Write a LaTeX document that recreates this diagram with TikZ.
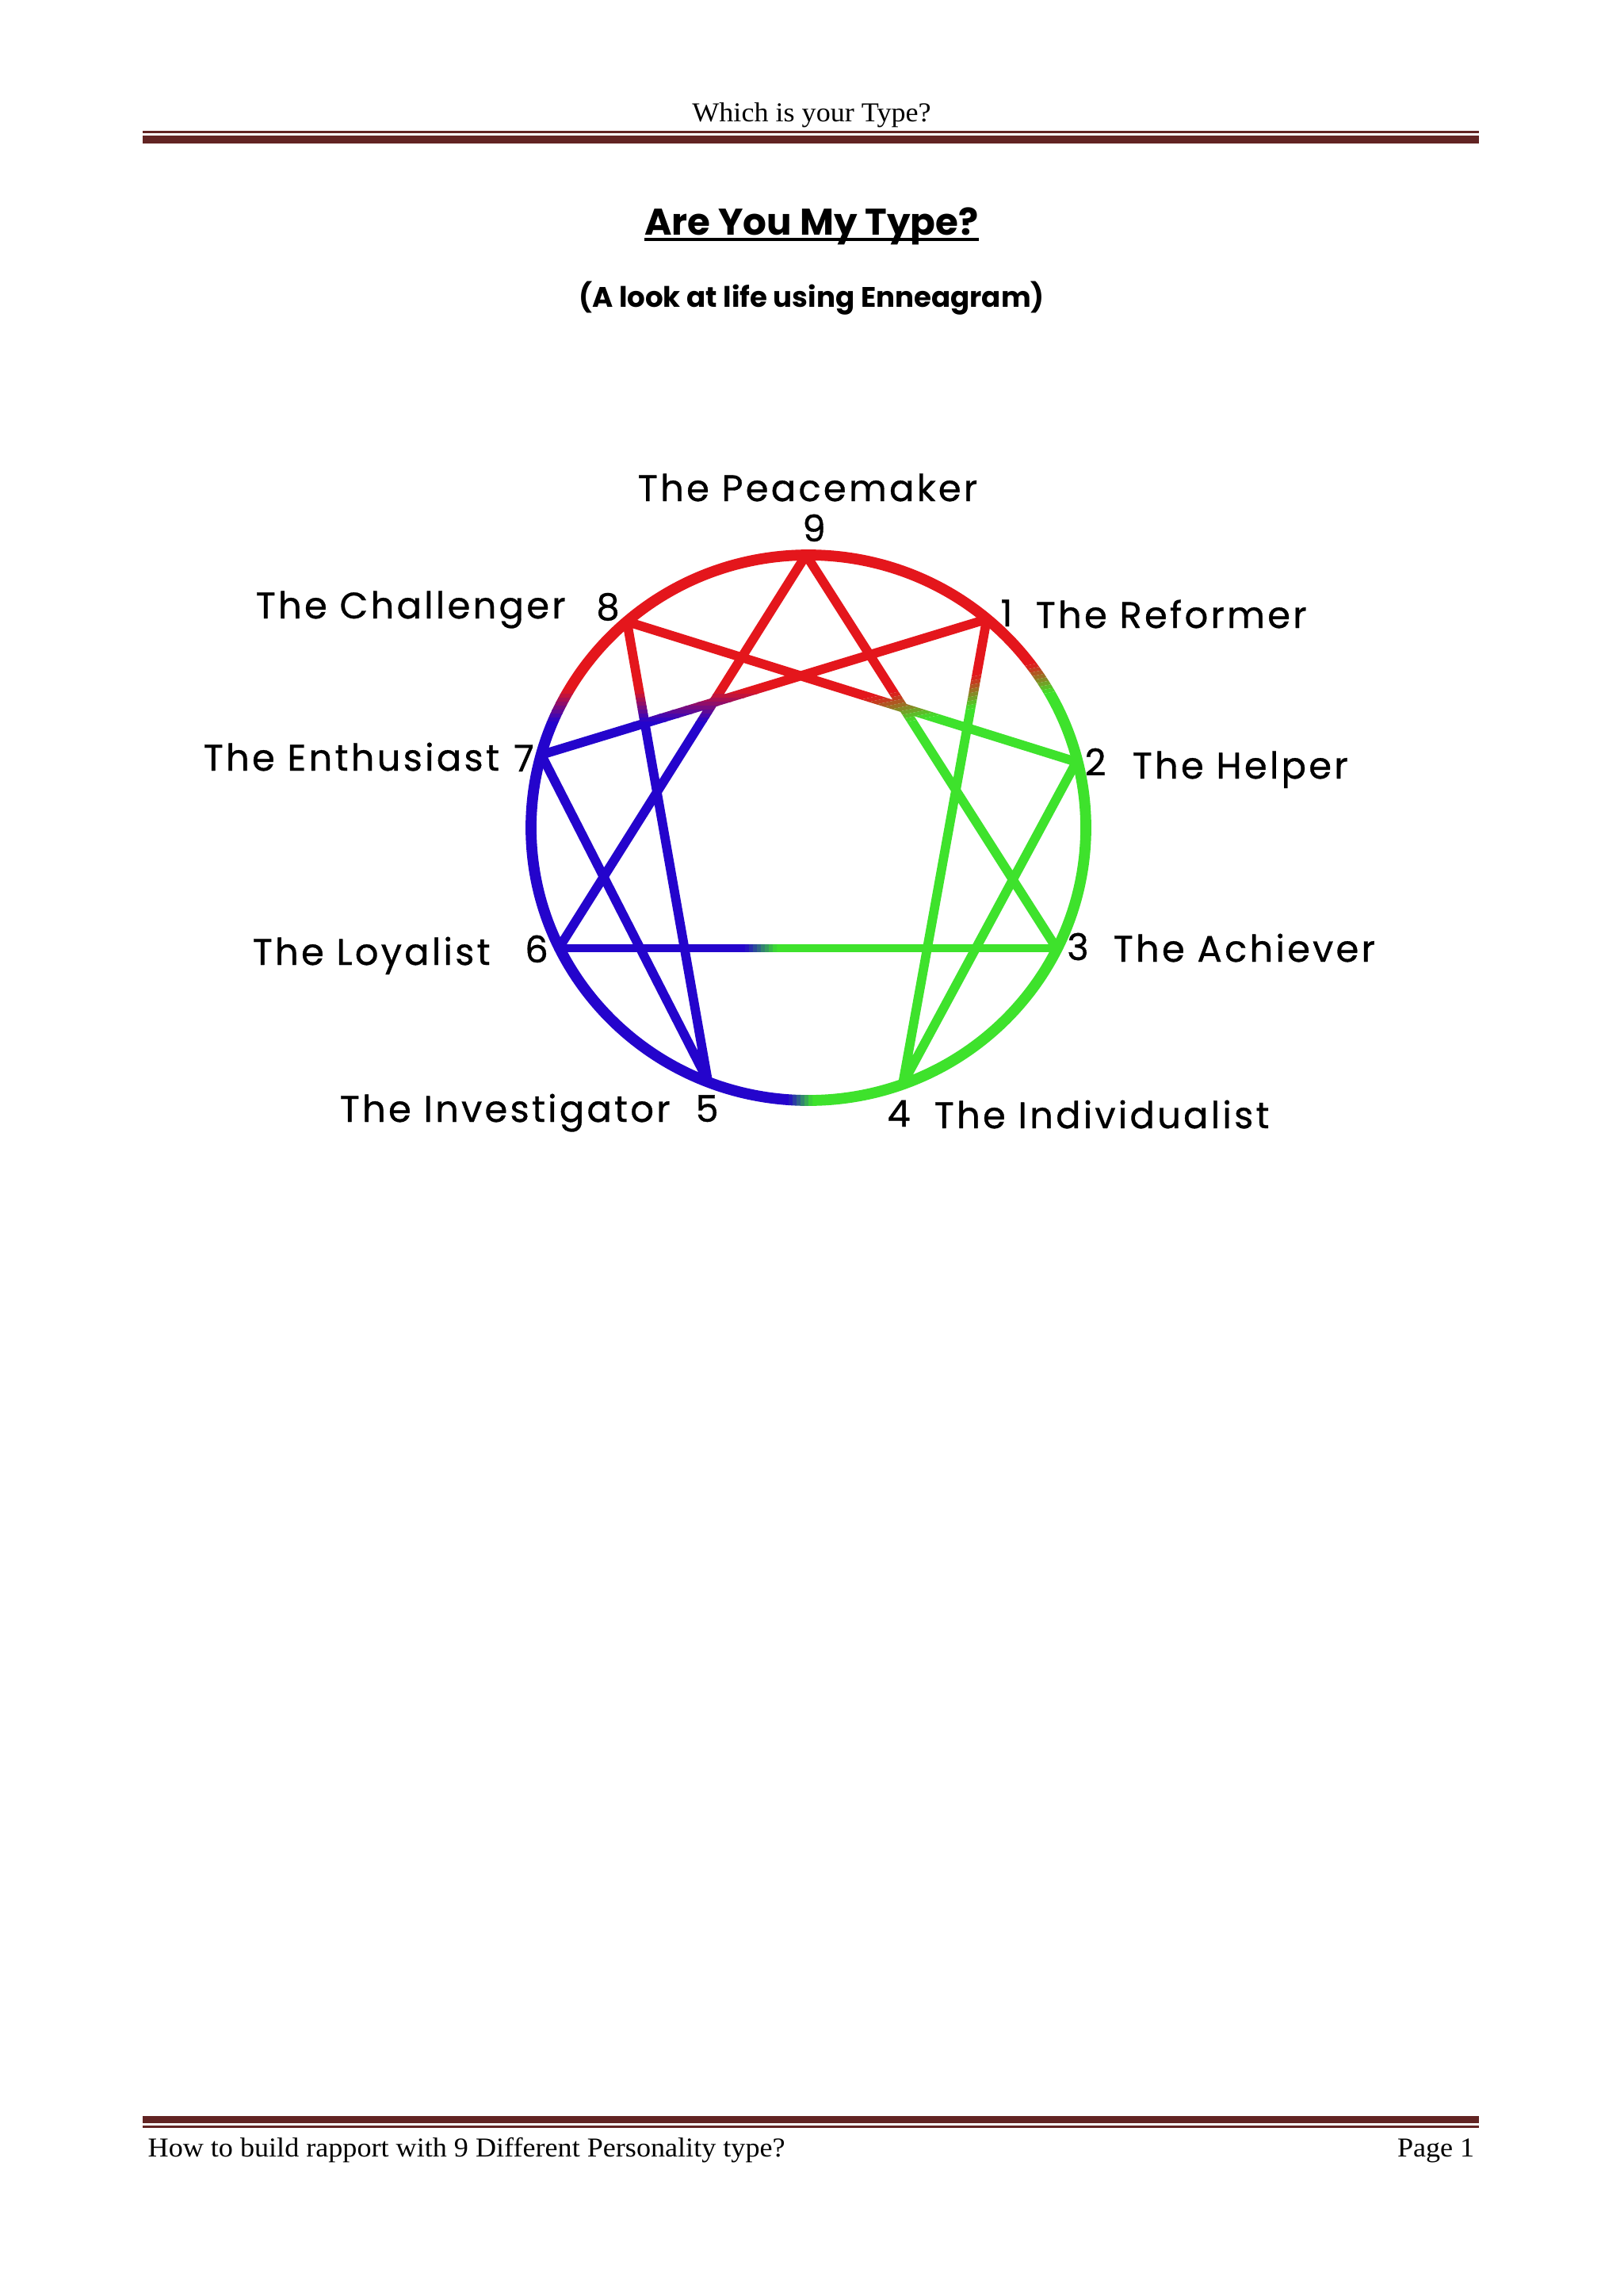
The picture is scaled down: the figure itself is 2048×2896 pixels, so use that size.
\documentclass[tikz,border=0pt]{standalone}
\usepackage{fontspec}
\setmainfont{Liberation Serif}[FakeStretch=1.05]
\newfontfamily\gothic{Poppins}
\newfontfamily\gothiclbl{Poppins}[LetterSpace=7,FakeBold=0.7]
\usetikzlibrary{calc}
\definecolor{maroon}{RGB}{98,36,35}
\definecolor{ered}{RGB}{228,22,28}
\definecolor{egreen}{RGB}{62,226,44}
\definecolor{eblue}{RGB}{36,4,204}
\newcommand\enneadraw[1]{%
  \draw[draw=#1,line width=4pt] (ctr) ellipse [x radius=350,y radius=344];
  \draw[draw=#1,line width=3.4pt,line cap=round,line join=round]
    (n9)--(n3) (n6)--(n9)
    (n1)--(n4)--(n2)--(n8)--(n5)--(n7)--cycle;
  \draw[draw=#1,line width=2.9pt,line cap=round] (n6)--(n3);
}
\begin{document}
\begin{tikzpicture}[x=0.29066pt,y=-0.29066pt,
  hdr/.style={font=\fontsize{10}{12}\selectfont,inner sep=0pt},
  lbl/.style={font=\gothiclbl\fontsize{13.5}{16}\selectfont,inner sep=0pt},
  num/.style={font=\gothiclbl\fontsize{13.5}{16}\selectfont,inner sep=0pt,anchor=base}]
\useasboundingbox (0,0) rectangle (2048,2896);
\fill[white] (0,0) rectangle (2048,2896);
% header
\node[hdr,anchor=base] (hdr) at (1024,153) {Which is your Type?};
\fill[maroon] (180,165.3) rectangle (1866,167.9);
\fill[maroon] (180,170.7) rectangle (1866,180.7);
% title
\node[font=\gothic\bfseries\fontsize{13.6}{17}\selectfont,inner sep=0pt,anchor=base] (title) at (1024,296) {Are You My Type?};
\draw[line width=1.2pt] ($(title.base west)+(0,6)$) -- ($(title.base east)+(0,6)$);
\node[font=\gothic\bfseries\fontsize{10.35}{12}\selectfont,inner sep=0pt,anchor=base] (sub) at (1024,387) {(A look at life using Enneagram)};
% enneagram points
\coordinate (ctr) at (1020,1044);
\coordinate (n9) at (1017,700);
\coordinate (n1) at (1245,781);
\coordinate (n2) at (1358,961);
\coordinate (n3) at (1333,1196);
\coordinate (n4) at (1139,1367);
\coordinate (n5) at (893,1363);
\coordinate (n6) at (705,1196);
\coordinate (n7) at (683,952);
\coordinate (n8) at (791,784);
% red region
\begin{scope}
  \clip (0,0) rectangle (1000,870) (1000,0) -- (2048,0) -- (2048,685) -- (1000,900) -- cycle;
  \enneadraw{ered}
\end{scope}
\foreach \k in {0,...,7}{%
  \pgfmathtruncatemacro\p{100-(\k+0.5)*100/8}
  \begin{scope}
    \clip (0,{870+5*\k}) rectangle (1000,{875+5*\k});
    \enneadraw{ered!\p!eblue}
  \end{scope}}
\foreach \k in {0,...,7}{%
  \pgfmathtruncatemacro\p{100-(\k+0.5)*100/8}
  \begin{scope}
    \clip (1000,{900+5*\k}) -- (2048,{685+5*\k}) -- (2048,{690+5*\k}) -- (1000,{905+5*\k}) -- cycle;
    \enneadraw{ered!\p!egreen}
  \end{scope}}
% blue region
\begin{scope}
  \clip (0,910) rectangle (940,1290) (0,1290) rectangle (995,2896);
  \enneadraw{eblue}
\end{scope}
% green region
\begin{scope}
  \clip (1000,940) -- (2048,725) -- (2048,1290) -- (1000,1290) -- cycle
        (980,910) rectangle (1000,1290)
        (1025,1290) rectangle (2048,2896);
  \enneadraw{egreen}
\end{scope}
\foreach \k in {0,...,7}{%
  \pgfmathtruncatemacro\p{100-(\k+0.5)*100/8}
  \begin{scope}
    \clip ({940+5*\k},910) rectangle ({945+5*\k},1290);
    \enneadraw{eblue!\p!egreen}
  \end{scope}}
\foreach \k in {0,...,5}{%
  \pgfmathtruncatemacro\p{100-(\k+0.5)*100/6}
  \begin{scope}
    \clip ({995+5*\k},1290) rectangle ({1000+5*\k},2896);
    \enneadraw{eblue!\p!egreen}
  \end{scope}}
% labels
\node[lbl,anchor=base] (l9) at (1019,632) {The Peacemaker};
\node[num] (d9) at (1027,683) {9};
\node[num] (d8) at (767,782) {8};
\node[lbl,anchor=base west] (l8) at (322,780) {The Challenger};
\node[num] (d1) at (1270,790) {1};
\node[lbl,anchor=base west] (l1) at (1306,792) {The Reformer};
\node[num] (d2) at (1382,978) {2};
\node[lbl,anchor=base west] (l2) at (1428,982) {The Helper};
\node[num] (d3) at (1360,1211) {3};
\node[lbl,anchor=base west] (l3) at (1404,1213) {The Achiever};
\node[num] (d4) at (1134,1421) {4};
\node[lbl,anchor=base west] (l4) at (1178,1423) {The Individualist};
\node[num] (d5) at (892,1415) {5};
\node[lbl,anchor=base west] (l5) at (428,1415) {The Investigator};
\node[num] (d6) at (677,1214) {6};
\node[lbl,anchor=base west] (l6) at (318,1217) {The Loyalist};
\node[num] (d7) at (661,973) {7};
\node[lbl,anchor=base west] (l7) at (256,972) {The Enthusiast};
% footer
\fill[maroon] (180,2669.3) rectangle (1866,2678.3);
\fill[maroon] (180,2681.3) rectangle (1866,2684);
\node[hdr,anchor=base west] (foot) at (186,2720) {How to build rapport with 9 Different Personality type?};
\node[hdr,anchor=base east] (page) at (1861,2720) {Page 1};
\end{tikzpicture}
\end{document}
